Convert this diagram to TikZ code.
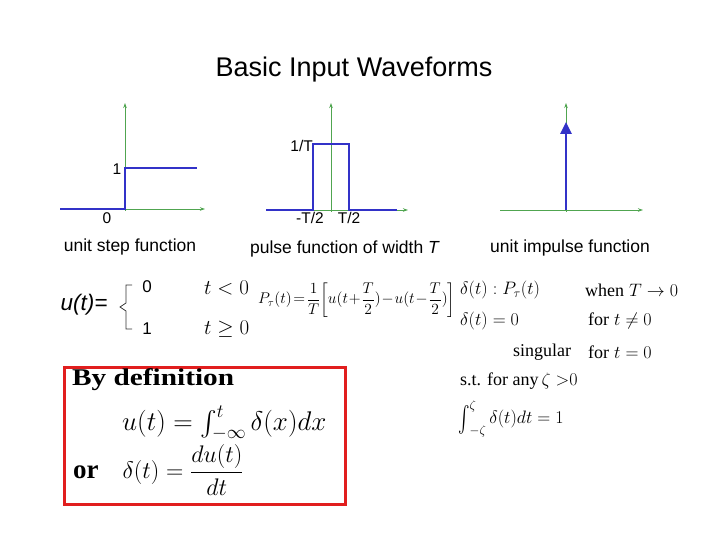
\documentclass[tikz,border=0pt]{standalone}
\usepackage{fix-cm}
\usepackage[no-math]{fontspec}
\setmainfont{Liberation Sans}
\newfontfamily\tnr{Liberation Serif}
\usepackage{amsmath}
\usetikzlibrary{arrows.meta}
\definecolor{axisgreen}{RGB}{80,165,80}
\definecolor{waveblue}{RGB}{50,50,200}
\definecolor{boxred}{RGB}{225,30,30}
\begin{document}
\begin{tikzpicture}[x=1pt, y=-1pt,
    axis/.style={draw=axisgreen, line width=0.9pt, -{Stealth[length=5pt, width=3.5pt]}},
    wave/.style={draw=waveblue, line width=2.6pt},
    lbl/.style={font=\fontsize{15.5}{18}\selectfont, inner sep=0pt},
    caption/.style={font=\fontsize{17.5}{21}\selectfont, inner sep=0pt},
    eq/.style={font=\fontsize{18}{22}\selectfont, anchor=west, inner sep=0pt},
    bigeq/.style={font=\fontsize{27}{32}\selectfont, anchor=west, inner sep=0pt},
    brace/.style={draw=black!80, line width=0.8pt},
    redbox/.style={draw=boxred, line width=3pt},
]
\useasboundingbox (0,0) rectangle (720,540);

\node[font=\fontsize{27}{32}\selectfont] (title) at (354,70) {Basic Input Waveforms};

% unit step
\draw[axis] (60,209) -- (205,209);
\draw[axis] (125,211) -- (125,103);
\draw[wave] (60,209) -- (125,209) -- (125,168) -- (197,168);
\node[lbl] (stepone) at (117,169) {1};
\node[lbl] (stepzero) at (107,218) {0};
\node[caption] (stepcap) at (130,247) {unit step function};

% pulse
\draw[axis] (266,210) -- (408,210);
\draw[axis] (331,212) -- (331,103);
\draw[wave] (266,210) -- (313,210) -- (313,144) -- (349,144) -- (349,210) -- (397,210);
\node[lbl, anchor=east] (pulsetop) at (313,146) {1/T};
\node[lbl] (pulseleft) at (310,218) {-T/2};
\node[lbl] (pulseright) at (349,218) {T/2};
\node[caption] (pulsecap) at (345,249) {pulse function of width \textit{T}};

% impulse
\draw[axis] (500,210) -- (643,210);
\draw[axis] (566,212) -- (566,103);
\draw[wave, -{Triangle[length=12pt, width=11pt]}] (566,210) -- (566,122);
\node[caption] (impcap) at (570,248) {unit impulse function};

% u(t)
\node[font=\fontsize{22.5}{26}\selectfont\itshape] (ulabel) at (84,305) {u(t)=};
\draw[brace] (132,285) -- (126,285) -- (126,303) -- (120,307) -- (126,311) -- (126,329) -- (132,329);
\node[font=\fontsize{17}{20}\selectfont] (uzero) at (147,287) {0};
\node[font=\fontsize{17}{20}\selectfont] (uone) at (147,329) {1};
\node[eq, font=\fontsize{21}{25}\selectfont] (ulow) at (204,288) {$t<0$};
\node[eq, font=\fontsize{21}{25}\selectfont] (uhigh) at (204,329) {$t\geq 0$};

\node[eq, font=\fontsize{15.5}{19}\selectfont] (pulseeq) at (258,300)
  {\thickmuskip=2mu \medmuskip=1mu $P_\tau(t) = \dfrac{1}{T}\!\left[u(t+\dfrac{T}{2})-u(t-\dfrac{T}{2})\right]$};

% delta
\node[eq] (dlim) at (460,290) {$\delta(t) : P_\tau(t)$};
\node[eq] (dwhen) at (585,290) {{\tnr when} $T\to 0$};
\node[eq] (dzero) at (460,321) {$\delta(t)=0$};
\node[eq] (dfor) at (588,321) {{\tnr for} $t\neq 0$};
\node[eq] (dsing) at (513,352) {\tnr singular};
\node[eq] (dfortwo) at (588,352) {{\tnr for} $t=0$};
\node[eq] (dst) at (460,381) {{\tnr s.t. for any}$\,\zeta\;{>}0$};
\node[eq] (dint) at (458,419) {$\mathop{\vcenter{\hbox{\scalebox{1}[1.5]{$\int$}}}}\nolimits_{-\zeta}^{\zeta}\delta(t)dt = 1$};

% definition
\draw[redbox] (64,367) rectangle (345,504);
\node[bigeq, font=\fontsize{24}{29}\selectfont] (bydef) at (72,380) {\scalebox{1.22}[1]{\tnr\bfseries By definition}};
\node[bigeq] (ueq) at (122,423) {$u(t) = \int_{-\infty}^{t}\delta(x)dx$};
\node[bigeq, font=\fontsize{24}{29}\selectfont] (deq) at (73,470) {{\tnr\bfseries\fontsize{27}{32}\selectfont or}\quad$\delta(t) = \dfrac{du(t)}{dt}$};

\end{tikzpicture}
\end{document}
